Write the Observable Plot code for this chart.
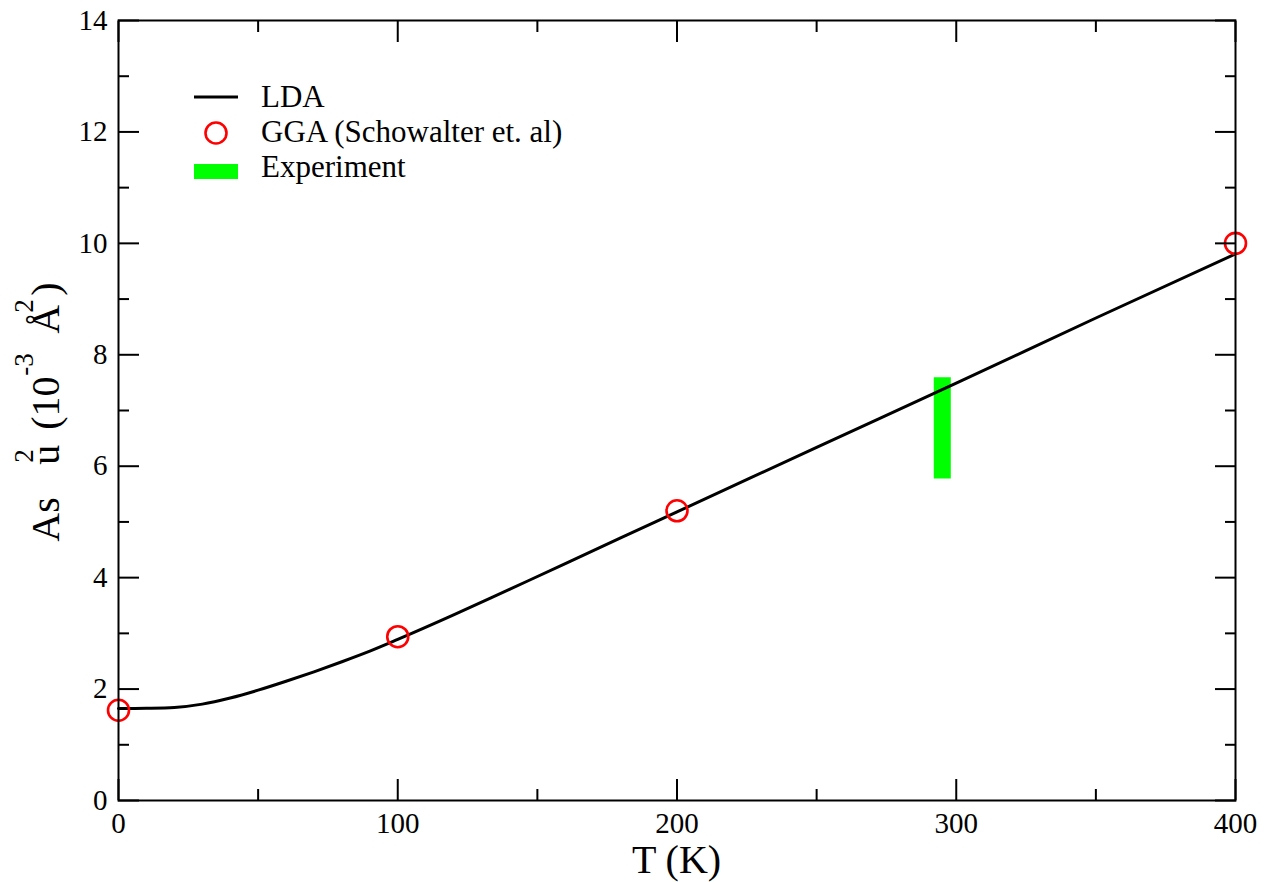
<!DOCTYPE html>
<html>
<head>
<meta charset="utf-8">
<script src="https://cdn.jsdelivr.net/npm/d3@7"></script>
<script src="https://cdn.jsdelivr.net/npm/@observablehq/plot@0.6"></script>
<style>
  html, body { margin: 0; padding: 0; background: #fff; }
  svg { display: block; }
</style>
</head>
<body>
<div id="chart"></div>
<script>
// LDA mean-square displacement of As versus temperature (10^-3 Å^2)
const ldaT = [0, 10, 20, 30, 40, 50, 60, 70, 80, 90, 100, 120, 140, 160, 180, 200, 250, 300, 350, 400];
const ldaU = [1.65, 1.655, 1.67, 1.73, 1.84, 1.98, 2.14, 2.31, 2.49, 2.68, 2.89, 3.33, 3.79, 4.25, 4.72, 5.18, 6.34, 7.49, 8.66, 9.81];

// GGA values (Schowalter et al.)
const ggaT = [0, 100, 200, 400];
const ggaU = [1.62, 2.94, 5.2, 10.0];

// Experimental range at room temperature
const expT = [295];
const expLow = [5.77];
const expHigh = [7.59];

// Axis ticks
const xMajor = [0, 100, 200, 300, 400];
const xMinor = [50, 150, 250, 350];
const yMajor = [0, 2, 4, 6, 8, 10, 12, 14];
const yMinor = [1, 3, 5, 7, 9, 11, 13];

const lda = ldaT.map((T, i) => ({T, u: ldaU[i]}));
const gga = ggaT.map((T, i) => ({T, u: ggaU[i]}));
const expData = expT.map((T, i) => ({T, lo: expLow[i], hi: expHigh[i]}));

const serif = "Liberation Serif";
const blank = () => "";

const plot = Plot.plot({
  width: 1271,
  height: 882,
  marginTop: 20,
  marginBottom: 82,
  marginLeft: 118,
  marginRight: 36,
  x: {domain: [0, 400]},
  y: {domain: [0, 14]},
  style: {fontFamily: serif, fontSize: "29px", color: "black", background: "white"},
  marks: [
    // experimental bar
    Plot.ruleX(expData, {x: "T", y1: "lo", y2: "hi", stroke: "#00ff00", strokeWidth: 17}),
    // LDA curve
    Plot.line(lda, {x: "T", y: "u", stroke: "black", strokeWidth: 3, curve: "monotone-x"}),
    // GGA points
    Plot.dot(gga, {x: "T", y: "u", r: 10.5, stroke: "#ff0000", strokeWidth: 2.6, fill: "none"}),

    // inward major and minor ticks on all four sides
    Plot.axisX(xMajor, {anchor: "bottom", tickSize: -21, strokeWidth: 2, tickFormat: blank, label: null}),
    Plot.axisX(xMinor, {anchor: "bottom", tickSize: -11, strokeWidth: 2, tickFormat: blank, label: null}),
    Plot.axisX(xMajor, {anchor: "top", tickSize: -21, strokeWidth: 2, tickFormat: blank, label: null}),
    Plot.axisX(xMinor, {anchor: "top", tickSize: -11, strokeWidth: 2, tickFormat: blank, label: null}),
    Plot.axisY(yMajor, {anchor: "left", tickSize: -21, strokeWidth: 2, tickFormat: blank, label: null}),
    Plot.axisY(yMinor, {anchor: "left", tickSize: -11, strokeWidth: 2, tickFormat: blank, label: null}),
    Plot.axisY(yMajor, {anchor: "right", tickSize: -21, strokeWidth: 2, tickFormat: blank, label: null}),
    Plot.axisY(yMinor, {anchor: "right", tickSize: -11, strokeWidth: 2, tickFormat: blank, label: null}),

    // tick labels
    Plot.text(xMajor, {x: d => d, frameAnchor: "bottom", lineAnchor: "top", dy: 12,
      text: d => String(d), fontSize: 29, fontFamily: serif, fill: "black"}),
    Plot.text(yMajor, {y: d => d, frameAnchor: "left", textAnchor: "end", dx: -11,
      text: d => String(d), fontSize: 29, fontFamily: serif, fill: "black"}),

    Plot.frame({stroke: "black", strokeWidth: 2})
  ]
});

document.getElementById("chart").appendChild(plot);

const svg = d3.select(plot);

// x-axis title
svg.append("text")
  .attr("x", 676.5).attr("y", 873)
  .attr("text-anchor", "middle")
  .attr("font-family", serif).attr("font-size", 40).attr("fill", "black")
  .text("T (K)");

// y-axis title with superscripts
const yt = svg.append("text")
  .attr("transform", "translate(59,541.7) rotate(-90)")
  .attr("text-anchor", "start")
  .attr("font-family", serif).attr("font-size", 40).attr("fill", "black");
const parts = [
  {t: "As", x: 0, dy: 0, s: 40},
  {t: "u", x: 77, dy: 0, s: 40},
  {t: "2", x: 79, dy: -26, s: 27},
  {t: "(10", x: 112, dy: 26, s: 40},
  {t: "-3", x: 166, dy: -26, s: 27},
  {t: "Å", x: 208, dy: 26, s: 40},
  {t: "2", x: 229, dy: -26, s: 27},
  {t: ")", x: 246, dy: 26, s: 40}
];
for (const p of parts) {
  yt.append("tspan").attr("x", p.x).attr("dy", p.dy).attr("font-size", p.s)
    .attr("text-anchor", "start").text(p.t);
}

// legend
const lg = svg.append("g").attr("font-family", serif).attr("font-size", 31)
  .attr("fill", "black").attr("text-anchor", "start");
lg.append("line").attr("x1", 194).attr("x2", 238).attr("y1", 97).attr("y2", 97)
  .attr("stroke", "black").attr("stroke-width", 3);
lg.append("text").attr("x", 261).attr("y", 107).text("LDA");
lg.append("circle").attr("cx", 216).attr("cy", 133).attr("r", 10.5)
  .attr("fill", "none").attr("stroke", "#ff0000").attr("stroke-width", 2.6);
lg.append("text").attr("x", 261).attr("y", 142).text("GGA (Schowalter et. al)");
lg.append("rect").attr("x", 194).attr("y", 164).attr("width", 44).attr("height", 15).attr("fill", "#00ff00");
lg.append("text").attr("x", 261).attr("y", 177).text("Experiment");
</script>
</body>
</html>
